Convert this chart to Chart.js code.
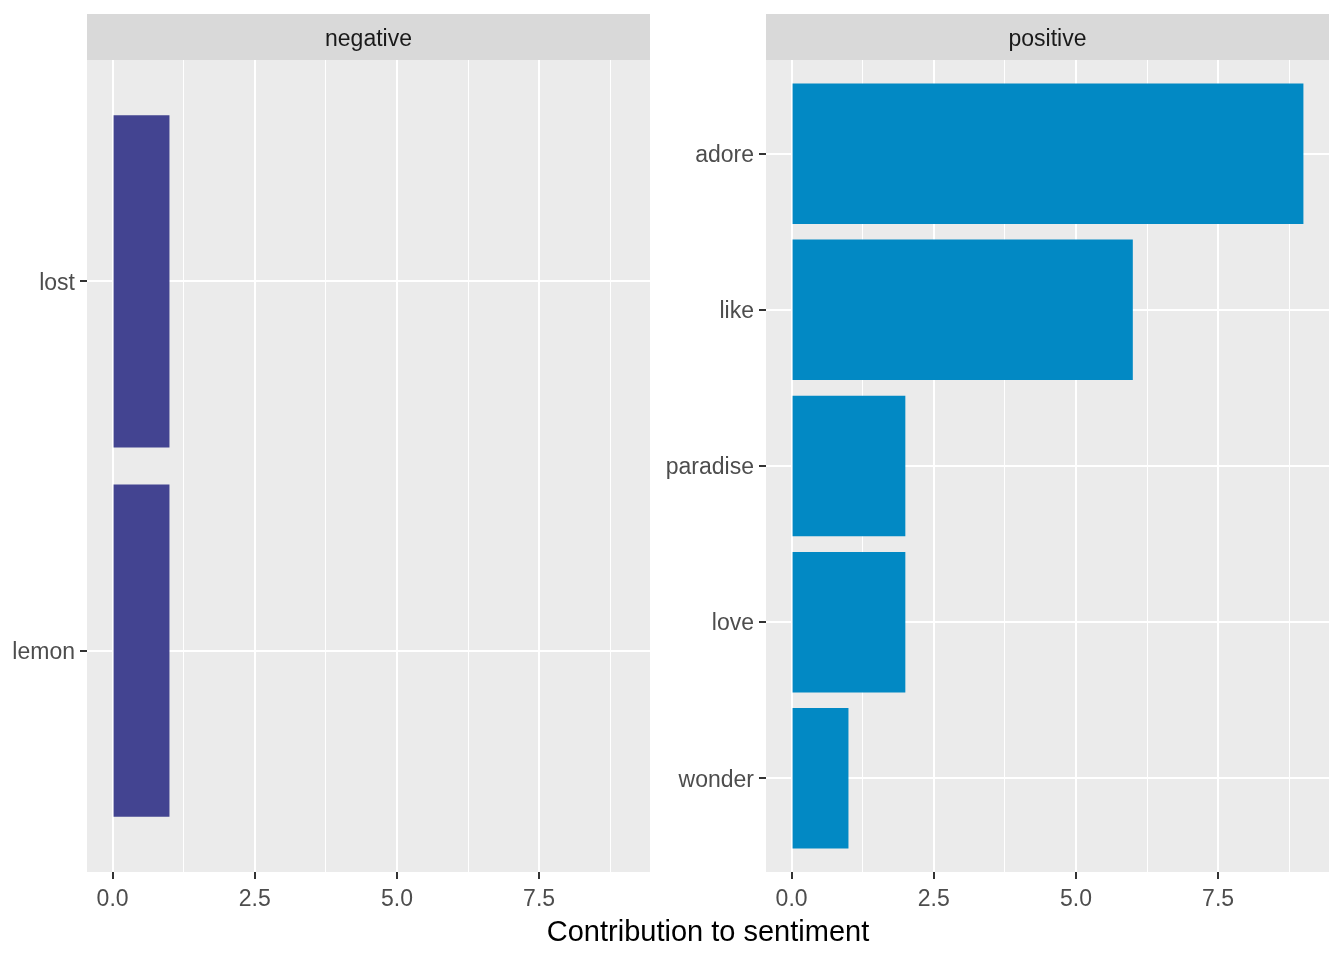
<!DOCTYPE html>
<html>
<head>
<meta charset="utf-8">
<script src="https://cdn.jsdelivr.net/npm/chart.js@4"></script>
<style>
  body { margin: 0; background: #fff; width: 1344px; height: 960px; position: relative; overflow: hidden; font-family: "Liberation Sans", Arial, sans-serif; }
  .wrap { position: absolute; top: 0; height: 960px; }
  #title { position: absolute; left: 87px; width: 1242px; top: 915px; text-align: center; font-size: 29px; color: #000; }
</style>
</head>
<body>
<div class="wrap" style="left:0;width:660px"><canvas id="neg"></canvas></div>
<div class="wrap" style="left:655px;width:689px"><canvas id="pos"></canvas></div>
<div id="title">Contribution to sentiment</div>
<script>
// facet data (top to bottom)
const negWords = ['lost', 'lemon'];
const negValues = [1, 1];
const posWords = ['adore', 'like', 'paradise', 'love', 'wonder'];
const posValues = [9, 6, 2, 2, 1];
const xTicks = [0, 2.5, 5, 7.5];
const xMax = 9;

const FONT = '"Liberation Sans", Arial, sans-serif';

// panel background + strip label
const facetPlugin = {
  id: 'facet',
  beforeDraw(chart, args, opts) {
    const { ctx, chartArea: a } = chart;
    ctx.save();
    ctx.fillStyle = '#EBEBEB';
    ctx.fillRect(a.left, a.top, a.right - a.left, a.bottom - a.top);
    ctx.fillStyle = '#D9D9D9';
    ctx.fillRect(a.left, 14, a.right - a.left, a.top - 14);
    ctx.fillStyle = '#1A1A1A';
    ctx.font = '23px ' + FONT;
    ctx.textAlign = 'center';
    ctx.textBaseline = 'middle';
    ctx.fillText(opts.label, (a.left + a.right) / 2, (14 + a.top) / 2 + 3);
    ctx.restore();
  }
};

function makePanel(id, label, words, values, color, axisWidth, padRight) {
  const n = words.length;
  const minor = [];
  for (let i = 0; i < xTicks.length; i++) {
    minor.push(xTicks[i]);
    minor.push(xTicks[i] + (xTicks[1] - xTicks[0]) / 2);
  }
  const isMajor = v => xTicks.includes(v);
  const pad = xMax * 0.05;

  return new Chart(document.getElementById(id), {
    type: 'bar',
    data: {
      datasets: [{
        data: values.map((v, i) => ({ x: v, y: i + 1 })),
        backgroundColor: color,
        borderWidth: 0,
        barPercentage: 0.9,
        categoryPercentage: 1.0
      }]
    },
    options: {
      indexAxis: 'y',
      responsive: true,
      maintainAspectRatio: false,
      animation: false,
      events: [],
      layout: { padding: { top: 60, right: padRight, left: 0, bottom: 0 } },
      plugins: { legend: { display: false }, tooltip: { enabled: false }, facet: { label } },
      scales: {
        x: {
          type: 'linear',
          min: -pad,
          max: xMax + pad,
          offset: false,
          afterBuildTicks: s => { s.ticks = minor.map(v => ({ value: v })); },
          afterFit: s => { s.height = 88; },
          border: { display: false },
          grid: {
            offset: false,
            color: '#FFFFFF',
            lineWidth: c => isMajor(c.tick.value) ? 2 : 1,
            tickColor: c => isMajor(c.tick.value) ? '#333333' : 'rgba(0,0,0,0)',
            tickWidth: 2,
            tickLength: 7
          },
          ticks: {
            autoSkip: false,
            maxRotation: 0,
            padding: 7,
            color: '#4D4D4D',
            font: { family: FONT, size: 23 },
            callback: v => isMajor(v) ? v.toFixed(1) : ''
          }
        },
        y: {
          type: 'linear',
          reverse: true,
          min: 0.4,
          max: n + 0.6,
          offset: false,
          afterBuildTicks: s => { s.ticks = words.map((w, i) => ({ value: i + 1 })); },
          afterFit: s => { s.width = axisWidth; },
          border: { display: false },
          grid: {
            offset: false,
            color: '#FFFFFF',
            lineWidth: 2,
            tickColor: '#333333',
            tickWidth: 2,
            tickLength: 7
          },
          ticks: {
            autoSkip: false,
            padding: 5,
            labelOffset: 2,
            color: '#4D4D4D',
            font: { family: FONT, size: 23 },
            callback: v => words[v - 1] || ''
          }
        }
      }
    },
    plugins: [facetPlugin]
  });
}

makePanel('neg', 'negative', negWords, negValues, '#434491', 87, 10);
makePanel('pos', 'positive', posWords, posValues, '#0289C4', 111, 15);
</script>
</body>
</html>
